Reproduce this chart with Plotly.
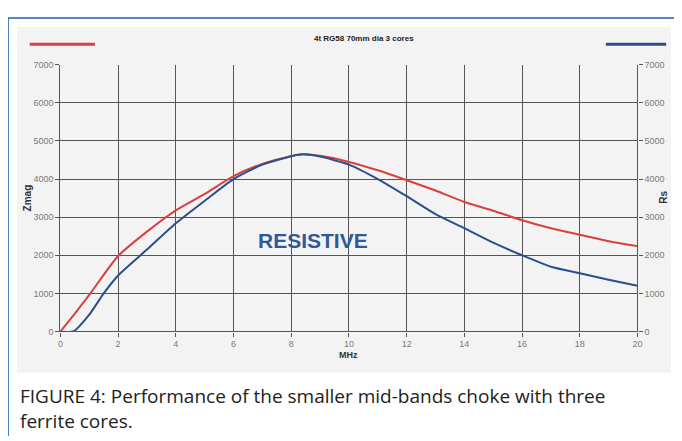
import plotly.graph_objects as go

# Data
freq_zmag = [0, 0.5, 1, 2, 3, 4, 5, 6, 7, 8, 8.4, 9, 10, 11, 12, 13, 14, 15, 16, 17, 18, 19, 20]
zmag = [0, 470, 960, 1980, 2620, 3180, 3610, 4080, 4400, 4600, 4650, 4610, 4450, 4230, 3970, 3700, 3400, 3170, 2920, 2710, 2540, 2370, 2240]

freq_rs = [0, 0.45, 1, 1.5, 2, 3, 4, 5, 6, 7, 8, 8.4, 9, 10, 11, 12, 13, 14, 15, 16, 17, 18, 19, 20]
rs = [0, 0, 440, 1000, 1470, 2150, 2840, 3430, 4000, 4380, 4600, 4650, 4590, 4380, 4000, 3550, 3080, 2710, 2330, 2000, 1700, 1530, 1360, 1200]

x_ticks = [0, 2, 4, 6, 8, 10, 12, 14, 16, 18, 20]
y_ticks = [0, 1000, 2000, 3000, 4000, 5000, 6000, 7000]

title_text = "4t RG58 70mm dia 3 cores"
caption_line1 = "FIGURE 4: Performance of the smaller mid-bands choke with three"
caption_line2 = "ferrite cores."

# The page body adds an 8px margin, so the figure is sized/offset to compensate
OFF = 8
W, H = 682 - OFF, 441 - OFF
def px(x):
    return (x - OFF) / W
def py(y):
    return 1 - (y - OFF) / H

RED = "#d8413f"
BLUE = "#2c4f8c"
GRID = "#555555"
FRAME = "#1f5fa8"

fig = go.Figure()
fig.add_trace(go.Scatter(x=freq_zmag, y=zmag, mode="lines", name="Zmag",
                         line=dict(color=RED, width=2, shape="spline", smoothing=0.6),
                         yaxis="y"))
fig.add_trace(go.Scatter(x=freq_rs, y=rs, mode="lines", name="Rs",
                         line=dict(color=BLUE, width=2, shape="spline", smoothing=0.6),
                         yaxis="y2"))

tickfont = dict(family="Arial, Liberation Sans, sans-serif", size=9, color="#7a7a7a")

fig.update_layout(
    width=W, height=H, autosize=False,
    margin=dict(l=0, r=0, t=0, b=0),
    paper_bgcolor="white",
    plot_bgcolor="#f6f6f6",
    showlegend=False,
    xaxis=dict(domain=[px(58), px(642)], range=[0, 20], tickvals=x_ticks,
               showgrid=True, gridcolor=GRID, gridwidth=1.3,
               showline=True, linecolor=GRID, linewidth=1.3, mirror=False,
               ticks="outside", ticklen=4, tickcolor=GRID,
               tickfont=tickfont, zeroline=False, fixedrange=True),
    yaxis=dict(domain=[py(334), py(61)], range=[0, 7000], tickvals=y_ticks,
               showgrid=True, gridcolor=GRID, gridwidth=1.3,
               showline=True, linecolor=GRID, linewidth=1.3,
               ticks="outside", ticklen=4, tickcolor=GRID,
               tickfont=tickfont, zeroline=False, fixedrange=True),
    yaxis2=dict(overlaying="y", side="right", anchor="x", range=[0, 7000], tickvals=y_ticks,
                showgrid=False, showline=True, linecolor=GRID, linewidth=1.3,
                ticks="outside", ticklen=4, tickcolor=GRID,
                tickfont=tickfont, zeroline=False, fixedrange=True),
)

shapes = [
    # grey chart panel
    dict(type="rect", xref="paper", yref="paper", x0=px(14), x1=px(676), y0=py(376), y1=py(22),
         line=dict(width=0), fillcolor="#f3f3f3", layer="below"),
    # outer blue frame (left, top, right edges)
    dict(type="line", xref="paper", yref="paper", x0=px(5), x1=px(5), y0=py(441), y1=py(13),
         line=dict(color=FRAME, width=1.5)),
    dict(type="line", xref="paper", yref="paper", x0=px(5), x1=px(681), y0=py(13), y1=py(13),
         line=dict(color=FRAME, width=1.5)),
    dict(type="line", xref="paper", yref="paper", x0=px(681), x1=px(681), y0=py(441), y1=py(13),
         line=dict(color=FRAME, width=1.5)),
    # legend lines
    dict(type="line", xref="paper", yref="paper", x0=px(27), x1=px(93), y0=py(40), y1=py(40),
         line=dict(color=RED, width=3)),
    dict(type="line", xref="paper", yref="paper", x0=px(610), x1=px(671), y0=py(40), y1=py(40),
         line=dict(color=BLUE, width=3)),
]
fig.update_layout(shapes=shapes)

annos = [
    dict(text="<b>" + title_text + "</b>", x=px(365), y=py(34), font=dict(family="Arial", size=8, color="#222222"),
         xanchor="center", yanchor="middle"),
    dict(text="<b>Zmag</b>", x=px(25), y=py(197), textangle=-90, font=dict(family="Arial", size=10, color="#333333"),
         xanchor="center", yanchor="middle"),
    dict(text="<b>Rs</b>", x=px(668), y=py(197), textangle=-90, font=dict(family="Arial", size=10, color="#333333"),
         xanchor="center", yanchor="middle"),
    dict(text="<b>MHz</b>", x=px(350), y=py(358), font=dict(family="Arial", size=9, color="#333333"),
         xanchor="center", yanchor="middle"),
    dict(text="<b>RESISTIVE</b>", x=8.75, y=2380, xref="x", yref="y",
         font=dict(family="Arial", size=21, color="#2f5a9a"), xanchor="center", yanchor="middle"),
    dict(text=caption_line1, x=px(15), y=py(400), font=dict(family="Open Sans", size=19, color="#222222"),
         xanchor="left", yanchor="middle"),
    dict(text=caption_line2, x=px(15), y=py(426), font=dict(family="Open Sans", size=19, color="#222222"),
         xanchor="left", yanchor="middle"),
]
for a in annos:
    a.setdefault("xref", "paper")
    a.setdefault("yref", "paper")
    a["showarrow"] = False
fig.update_layout(annotations=annos)

fig.write_html("out.html")
